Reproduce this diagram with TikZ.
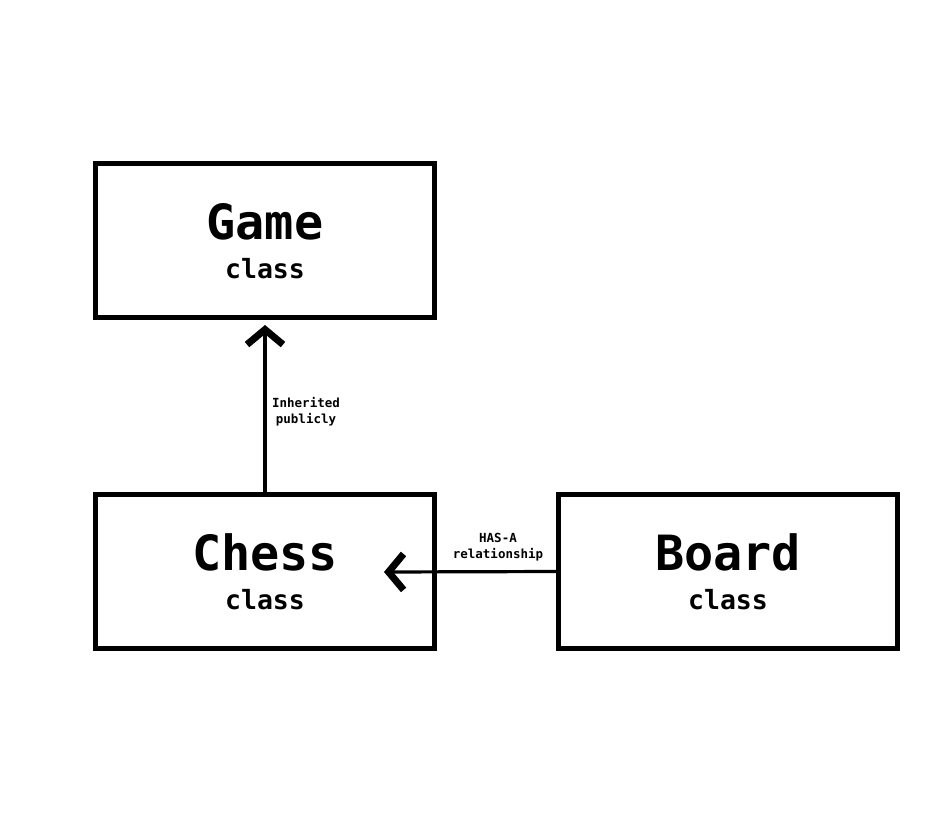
\documentclass[tikz,border=0pt]{standalone}
\usepackage{fontspec}
\setmonofont{DejaVu Sans Mono}
\usetikzlibrary{arrows.meta}
\tikzset{
  classbox/.style={draw=black, line width=5pt, rectangle, minimum width=339pt, minimum height=154pt, inner sep=0pt},
  bigname/.style={anchor=base, inner sep=0pt, font=\ttfamily\bfseries\fontsize{48.5}{48.5}\selectfont},
  smallname/.style={anchor=base, inner sep=0pt, font=\ttfamily\bfseries\fontsize{26.5}{26.5}\selectfont},
  linklabel/.style={align=center, inner sep=0pt, font=\ttfamily\bfseries\fontsize{12.5}{16}\selectfont},
  link/.style={line width=3.2pt, -{Straight Barb[length=15pt, width=36pt, line width=7pt]}}
}
\begin{document}
\begin{tikzpicture}[x=1pt, y=-1pt]
  \useasboundingbox[fill=white] (0,0) rectangle (942,827);
  \node[classbox] (game) at (265,240.5) {};
  \node[classbox] (chess) at (265,571.5) {};
  \node[classbox] (board) at (728,571.5) {};
  \node[bigname] (gamet) at (265,239) {Game};
  \node[smallname] (gamec) at (265,278) {class};
  \node[bigname] (chesst) at (265,570) {Chess};
  \node[smallname] (chessc) at (265,609) {class};
  \node[bigname] (boardt) at (728,570) {Board};
  \node[smallname] (boardc) at (728,609) {class};
  \coordinate (chessend) at (384,572);
  \draw[link, shorten >=5pt] (chess.north) -- (game.south);
  \draw[link] (board.west) -- (chessend);
  \node[linklabel] (inh) at (306,412) {Inherited\\publicly};
  \node[linklabel] (has) at (498,547) {HAS-A\\relationship};
\end{tikzpicture}
\end{document}
